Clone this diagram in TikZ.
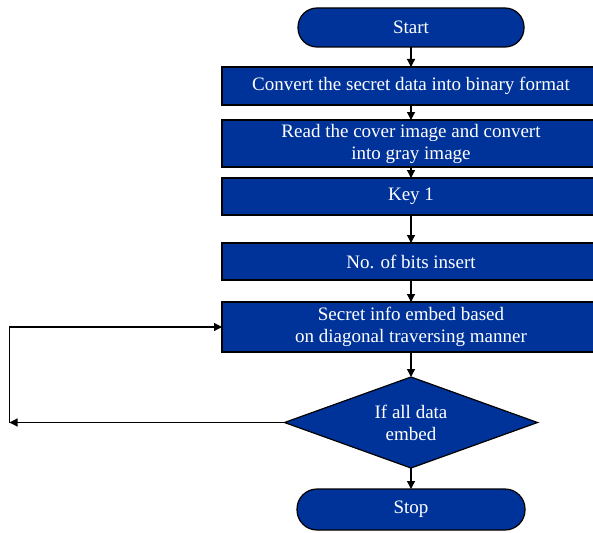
\documentclass[tikz,border=0pt]{standalone}
\usepackage{fontspec}
\setmainfont{Liberation Serif}
\usetikzlibrary{arrows.meta, positioning, shapes.geometric}
\definecolor{boxblue}{RGB}{0,51,153}

\begin{document}
\begin{tikzpicture}[
    x=1pt, y=-1pt,
    font=\fontsize{19}{22}\selectfont,
    terminal/.style={
        draw,
        line width=1.2pt,
        rounded corners=19pt,
        fill=boxblue,
        text=white,
        minimum width=226pt,
        minimum height=39pt,
        inner sep=0pt,
        outer sep=0pt
    },
    process/.style={
        draw,
        line width=1.2pt,
        fill=boxblue,
        text=white,
        align=center,
        minimum width=378pt,
        inner sep=2pt,
        outer sep=0pt
    },
    decision/.style={
        draw,
        diamond,
        line width=1.2pt,
        fill=boxblue,
        text=white,
        align=center,
        aspect=2.8,
        minimum width=253pt,
        minimum height=91pt,
        inner sep=0pt,
        outer sep=0pt
    },
    flow/.style={-{Triangle[length=8pt, width=8pt]}, line width=1.2pt}
]
    \useasboundingbox (0,0) rectangle (593,532);

    \node[terminal] (start) at (411,27.5) {Start};
    \node[process, minimum height=38pt, below=20pt of start] (binary) {Convert the secret data into binary format};
    \node[process, minimum height=47pt, below=15pt of binary] (gray) {Read the cover image and convert\\into gray image};
    \node[process, minimum height=37pt, below=11pt of gray] (key) {Key 1};
    \node[process, minimum height=37pt, below=28pt of key] (bits) {No. of bits insert};
    \node[process, minimum height=50pt, below=22pt of bits] (embed) {Secret info embed based\\on diagonal traversing manner};
    \node[decision, below=25pt of embed] (cond) {If all data\\embed};
    \node[terminal, minimum width=228pt, minimum height=41pt, rounded corners=20pt, below=21pt of cond] (stop) {Stop};
    \coordinate (back) at ([xshift=-275pt]cond.west);

    \draw[flow] (start) -- (binary);
    \draw[flow] (binary) -- (gray);
    \draw[flow] (gray) -- (key);
    \draw[flow] (key) -- (bits);
    \draw[flow] (bits) -- (embed);
    \draw[flow] (embed) -- (cond);
    \draw[flow] (cond) -- (stop);
    \draw[flow] (cond.west) -- (back);
    \draw[flow] (back) |- (embed.west);
\end{tikzpicture}
\end{document}
